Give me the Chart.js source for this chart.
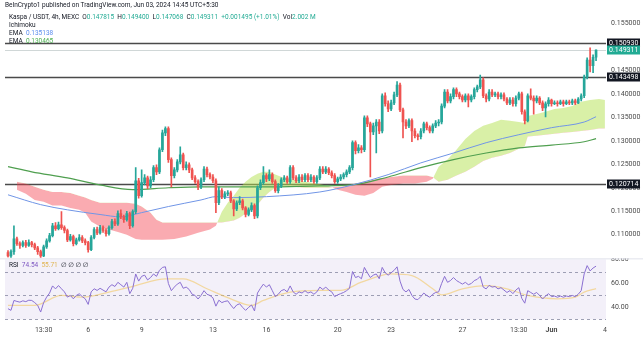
<!DOCTYPE html>
<html>
<head>
<meta charset="utf-8">
<script src="https://cdn.jsdelivr.net/npm/chart.js@4.4.1/dist/chart.umd.min.js"></script>
<style>
  body { margin: 0; background: #fff; width: 643px; height: 339px; overflow: hidden; position: relative; font-family: Roboto, "DejaVu Sans", sans-serif; }
  canvas { position: absolute; left: 0; }
  #main { top: 0; }
  #rsi { top: 258px; }
  .txt { position: absolute; font-size: 6.5px; line-height: 8px; color: #131722; white-space: nowrap; z-index: 5; }
  .g { color: #22ab94; }
</style>
</head>
<body>
<canvas id="main" width="643" height="258"></canvas>
<canvas id="rsi" width="643" height="81"></canvas>

<div class="txt" style="left:5px;top:1px;">BeInCrypto1 published on TradingView.com, Jun 03, 2024 14:45 UTC+5:30</div>
<div class="txt" style="left:9px;top:13px;">Kaspa / USDT, 4h, MEXC&nbsp; O<span class="g">0.147815</span>&nbsp; H<span class="g">0.149400</span>&nbsp; L<span class="g">0.147068</span>&nbsp; C<span class="g">0.149311</span>&nbsp; <span class="g">+0.001495 (+1.01%)</span>&nbsp; Vol<span class="g">2.002 M</span></div>
<div class="txt" style="left:9px;top:21px;">Ichimoku</div>
<div class="txt" style="left:9px;top:29px;">EMA&nbsp; <span style="color:#5b8def">0.135138</span></div>
<div class="txt" style="left:9px;top:37px;">EMA&nbsp; <span style="color:#4caf50">0.130465</span></div>
<div class="txt" style="left:9px;top:261px;">RSI&nbsp; <span style="color:#7e57c2">74.54</span>&nbsp; <span style="color:#e0b450">55.71</span>&nbsp; ∅ ∅ ∅ ∅</div>

<script>
// 4h candles, index 0 = May 1 13:30 ... 198 = Jun 3 13:30
const opens = [
  0.1062,0.1055,0.1064,0.1091,0.1081,0.1077,0.1083,0.1077,0.1083,0.1079,
  0.1072,0.1064,0.1055,0.1074,0.1087,0.1098,0.1119,0.1113,0.1121,0.1115,
  0.1109,0.1089,0.1096,0.1081,0.1089,0.1094,0.1087,0.1083,0.1068,0.1094,
  0.1111,0.1104,0.1115,0.1109,0.1102,0.1115,0.1128,0.1123,0.1145,0.1138,
  0.1132,0.1145,0.1119,0.1149,0.1215,0.1183,0.1211,0.1221,0.1204,0.1217,
  0.1243,0.1234,0.1281,0.1317,0.1326,0.1260,0.1226,0.1238,0.1255,0.1270,
  0.1243,0.1249,0.1238,0.1221,0.1213,0.1202,0.1217,0.1240,0.1228,0.1223,
  0.1215,0.1168,0.1194,0.1181,0.1187,0.1189,0.1172,0.1155,0.1168,0.1172,
  0.1157,0.1143,0.1153,0.1162,0.1140,0.1200,0.1211,0.1226,0.1219,0.1228,
  0.1213,0.1194,0.1204,0.1217,0.1221,0.1213,0.1243,0.1221,0.1215,0.1223,
  0.1217,0.1226,0.1217,0.1223,0.1213,0.1221,0.1240,0.1234,0.1240,0.1232,
  0.1226,0.1213,0.1219,0.1223,0.1228,0.1234,0.1243,0.1296,0.1279,0.1285,
  0.1281,0.1349,0.1336,0.1319,0.1332,0.1340,0.1321,0.1396,0.1379,0.1368,
  0.1381,0.1398,0.1419,0.1366,0.1340,0.1332,0.1343,0.1321,0.1311,0.1309,
  0.1321,0.1336,0.1328,0.1321,0.1332,0.1338,0.1340,0.1374,0.1404,0.1385,
  0.1394,0.1409,0.1400,0.1394,0.1387,0.1396,0.1387,0.1394,0.1409,0.1415,
  0.1430,0.1396,0.1389,0.1404,0.1398,0.1400,0.1394,0.1398,0.1389,0.1381,
  0.1387,0.1379,0.1391,0.1400,0.1362,0.1343,0.1396,0.1391,0.1385,0.1391,
  0.1381,0.1370,0.1379,0.1387,0.1379,0.1381,0.1379,0.1383,0.1379,0.1383,
  0.1381,0.1385,0.1381,0.1389,0.1396,0.1436,0.1472,0.1460,0.147815
];
const highs = [
  0.1066,0.1068,0.1119,0.1095,0.1085,0.1087,0.1088,0.1089,0.1086,0.1082,
  0.1075,0.1067,0.1078,0.1091,0.1103,0.1124,0.1126,0.1127,0.1149,0.1119,
  0.1112,0.1101,0.1099,0.1093,0.1100,0.1098,0.1091,0.1086,0.1098,0.1115,
  0.1116,0.1120,0.1119,0.1113,0.1119,0.1133,0.1134,0.1151,0.1153,0.1142,
  0.1150,0.1148,0.1153,0.1243,0.1220,0.1238,0.1228,0.1225,0.1224,0.1247,
  0.1249,0.1285,0.1323,0.1330,0.1330,0.1264,0.1243,0.1260,0.1287,0.1274,
  0.1255,0.1253,0.1242,0.1226,0.1217,0.1221,0.1245,0.1244,0.1232,0.1228,
  0.1219,0.1202,0.1198,0.1192,0.1194,0.1193,0.1175,0.1172,0.1181,0.1176,
  0.1160,0.1157,0.1168,0.1166,0.1204,0.1217,0.1245,0.1230,0.1238,0.1232,
  0.1217,0.1209,0.1221,0.1226,0.1225,0.1247,0.1247,0.1226,0.1228,0.1228,
  0.1230,0.1230,0.1228,0.1226,0.1226,0.1245,0.1245,0.1245,0.1243,0.1236,
  0.1230,0.1223,0.1228,0.1232,0.1238,0.1247,0.1300,0.1300,0.1292,0.1290,
  0.1353,0.1353,0.1340,0.1338,0.1345,0.1345,0.1400,0.1402,0.1385,0.1387,
  0.1404,0.1426,0.1423,0.1370,0.1345,0.1347,0.1347,0.1326,0.1315,0.1326,
  0.1340,0.1340,0.1332,0.1336,0.1343,0.1345,0.1379,0.1409,0.1409,0.1400,
  0.1413,0.1413,0.1404,0.1398,0.1400,0.1400,0.1398,0.1413,0.1419,0.1440,
  0.1434,0.1400,0.1409,0.1409,0.1404,0.1404,0.1402,0.1402,0.1392,0.1392,
  0.1392,0.1396,0.1404,0.1404,0.1366,0.1400,0.1411,0.1396,0.1396,0.1394,
  0.1385,0.1383,0.1392,0.1389,0.1385,0.1385,0.1387,0.1387,0.1387,0.1387,
  0.1389,0.1389,0.1392,0.1400,0.1440,0.1477,0.1498,0.1483,0.149400
];
const lows = [
  0.1052,0.1051,0.1058,0.1077,0.1071,0.1074,0.1073,0.1075,0.1074,0.1068,
  0.1058,0.1051,0.1053,0.1071,0.1084,0.1095,0.1109,0.1110,0.1111,0.1104,
  0.1085,0.1086,0.1076,0.1078,0.1086,0.1083,0.1078,0.1063,0.1066,0.1091,
  0.1100,0.1101,0.1105,0.1097,0.1099,0.1112,0.1119,0.1120,0.1134,0.1126,
  0.1129,0.1113,0.1116,0.1145,0.1178,0.1180,0.1206,0.1198,0.1200,0.1213,
  0.1228,0.1230,0.1277,0.1311,0.1254,0.1202,0.1221,0.1234,0.1251,0.1238,
  0.1238,0.1232,0.1217,0.1209,0.1196,0.1198,0.1213,0.1223,0.1219,0.1211,
  0.1147,0.1164,0.1177,0.1177,0.1183,0.1168,0.1140,0.1151,0.1164,0.1153,
  0.1138,0.1140,0.1149,0.1134,0.1136,0.1196,0.1207,0.1213,0.1215,0.1209,
  0.1190,0.1189,0.1200,0.1213,0.1209,0.1209,0.1217,0.1211,0.1211,0.1213,
  0.1213,0.1213,0.1213,0.1209,0.1209,0.1217,0.1230,0.1230,0.1228,0.1221,
  0.1209,0.1209,0.1215,0.1219,0.1223,0.1230,0.1238,0.1272,0.1274,0.1274,
  0.1277,0.1330,0.1223,0.1313,0.1274,0.1315,0.1317,0.1374,0.1362,0.1364,
  0.1377,0.1394,0.1362,0.1306,0.1326,0.1328,0.1298,0.1306,0.1302,0.1304,
  0.1317,0.1323,0.1317,0.1317,0.1328,0.1332,0.1336,0.1370,0.1381,0.1381,
  0.1389,0.1394,0.1389,0.1383,0.1383,0.1372,0.1383,0.1389,0.1404,0.1411,
  0.1392,0.1383,0.1385,0.1394,0.1394,0.1389,0.1389,0.1385,0.1377,0.1377,
  0.1374,0.1374,0.1387,0.1357,0.1336,0.1340,0.1387,0.1357,0.1381,0.1377,
  0.1364,0.1351,0.1374,0.1374,0.1377,0.1374,0.1377,0.1374,0.1377,0.1377,
  0.1377,0.1377,0.1379,0.1385,0.1392,0.1432,0.1447,0.1445,0.147068
];
const closes = [
  0.1055,0.1064,0.1091,0.1081,0.1077,0.1083,0.1077,0.1083,0.1079,0.1072,
  0.1064,0.1055,0.1074,0.1087,0.1098,0.1119,0.1113,0.1121,0.1115,0.1109,
  0.1089,0.1096,0.1081,0.1089,0.1094,0.1087,0.1083,0.1068,0.1094,0.1111,
  0.1104,0.1115,0.1109,0.1102,0.1115,0.1128,0.1123,0.1145,0.1138,0.1132,
  0.1145,0.1119,0.1149,0.1215,0.1183,0.1211,0.1221,0.1204,0.1217,0.1243,
  0.1234,0.1281,0.1317,0.1326,0.1260,0.1226,0.1238,0.1255,0.1270,0.1243,
  0.1249,0.1238,0.1221,0.1213,0.1202,0.1217,0.1240,0.1228,0.1223,0.1215,
  0.1168,0.1194,0.1181,0.1187,0.1189,0.1172,0.1155,0.1168,0.1172,0.1157,
  0.1143,0.1153,0.1162,0.1140,0.1200,0.1211,0.1226,0.1219,0.1228,0.1213,
  0.1194,0.1204,0.1217,0.1221,0.1213,0.1243,0.1221,0.1215,0.1223,0.1217,
  0.1226,0.1217,0.1223,0.1213,0.1221,0.1240,0.1234,0.1240,0.1232,0.1226,
  0.1213,0.1219,0.1223,0.1228,0.1234,0.1243,0.1296,0.1279,0.1285,0.1281,
  0.1349,0.1336,0.1319,0.1332,0.1340,0.1321,0.1396,0.1379,0.1368,0.1381,
  0.1398,0.1419,0.1366,0.1340,0.1332,0.1343,0.1321,0.1311,0.1309,0.1321,
  0.1336,0.1328,0.1321,0.1332,0.1338,0.1340,0.1374,0.1404,0.1385,0.1394,
  0.1409,0.1400,0.1394,0.1387,0.1396,0.1387,0.1394,0.1409,0.1415,0.1430,
  0.1396,0.1389,0.1404,0.1398,0.1400,0.1394,0.1398,0.1389,0.1381,0.1387,
  0.1379,0.1391,0.1400,0.1362,0.1343,0.1396,0.1391,0.1385,0.1391,0.1381,
  0.1370,0.1379,0.1387,0.1379,0.1381,0.1379,0.1383,0.1379,0.1383,0.1381,
  0.1385,0.1381,0.1389,0.1396,0.1436,0.1472,0.1460,0.1478,0.149311
];

// Ichimoku cloud (leading spans), sampled at candle indexes
const cloudIdx = [3,6,9,12,15,18,21,24,26,28,31,34,37,40,43,45,48,50,52,56,60,64,68,70,
  72,74,76,78,80,82,84,86,88,90,93,96,100,104,108,
  111,114,117,120,123,126,129,133,137,141,143,
  145,148,151,154,157,160,163,166,169,172,174,175,178,181,184,187,190,193,196,199,201];
const spanA = [0.1196,0.1187,0.1174,0.1170,0.1162,0.1162,0.1157,0.1153,0.1147,0.1128,0.1117,0.1111,0.1106,0.1100,0.1091,0.1089,0.1089,0.1089,0.1089,0.1091,0.1096,0.1104,0.1111,0.1119,
  0.1149,0.1168,0.1183,0.1200,0.1213,0.1223,0.1230,0.1234,0.1234,0.1228,0.1221,0.1217,0.1213,0.1209,0.1204,
  0.1196,0.1191,0.1185,0.1183,0.1189,0.1202,0.1206,0.1209,0.1209,0.1213,0.1219,
  0.1245,0.1260,0.1281,0.1304,0.1321,0.1332,0.1338,0.1345,0.1343,0.1340,0.1338,0.1353,0.1357,0.1362,0.1368,0.1370,0.1374,0.1383,0.1387,0.1389,0.1387];
const spanB = [0.1213,0.1209,0.1202,0.1196,0.1191,0.1191,0.1189,0.1183,0.1179,0.1174,0.1168,0.1168,0.1168,0.1168,0.1166,0.1160,0.1147,0.1132,0.1126,0.1126,0.1126,0.1126,0.1126,0.1126,
  0.1126,0.1128,0.1130,0.1136,0.1145,0.1153,0.1164,0.1179,0.1191,0.1200,0.1202,0.1202,0.1200,0.1200,0.1200,
  0.1202,0.1204,0.1209,0.1213,0.1217,0.1221,0.1223,0.1226,0.1226,0.1226,0.1223,
  0.1213,0.1217,0.1226,0.1234,0.1245,0.1257,0.1264,0.1268,0.1274,0.1283,0.1289,0.1309,0.1311,0.1313,0.1315,0.1317,0.1319,0.1321,0.1323,0.1326,0.1326];

// EMAs
const emaFastIdx = [0,11,20,31,38,45,54,65,70,76,87,105,116,128,139,150,161,172,183,194,198];
const emaFast = [0.1185,0.1164,0.1153,0.1143,0.1138,0.1147,0.1160,0.1174,0.1181,0.1179,0.1181,0.1191,0.1206,0.1228,0.1253,0.1274,0.1296,0.1313,0.1328,0.1340,0.135138];
const emaSlowIdx = [0,8,20,31,42,54,65,87,105,116,128,139,150,161,172,183,194,198];
const emaSlow = [0.1245,0.1234,0.1221,0.1206,0.1196,0.1200,0.1202,0.1202,0.1204,0.1206,0.1223,0.1243,0.1260,0.1274,0.1285,0.1291,0.1298,0.130465];

// RSI and its MA
const rsi = [
  38.9,37.5,45.8,45.0,44.4,45.5,44.8,46.0,45.8,44.0,
  41.7,36.1,44.0,48.6,52.0,58.0,55.5,58.3,55.6,53.0,
  48.6,50.0,47.2,50.0,51.4,49.0,47.2,42.5,53.0,55.6,
  54.2,56.0,54.5,53.0,57.0,59.0,57.5,61.0,59.0,57.0,
  61.0,51.5,56.0,68.0,62.0,66.0,67.0,63.0,65.0,68.0,
  66.0,71.0,73.5,74.0,60.0,54.0,57.0,59.5,61.0,56.0,
  57.0,55.0,51.0,50.0,47.0,50.0,54.0,51.0,50.0,48.0,
  41.0,46.0,44.0,45.0,45.5,42.0,39.0,42.0,43.0,40.0,
  37.5,40.0,42.0,37.0,52.0,56.0,59.5,57.0,59.0,54.0,
  49.0,51.0,54.0,55.0,53.0,58.0,53.0,51.0,53.0,52.0,
  54.0,52.0,53.0,51.0,53.0,57.0,55.0,57.0,54.5,53.0,
  49.0,50.5,51.5,52.5,54.0,56.0,70.0,65.0,66.0,64.0,
  73.5,69.0,65.0,67.0,68.0,64.0,73.5,69.0,67.0,69.0,
  71.0,74.0,62.0,55.0,53.0,55.0,50.0,47.0,46.5,49.0,
  52.0,50.0,48.5,51.0,52.5,53.0,60.0,66.0,61.0,62.5,
  65.0,62.5,61.0,59.5,61.0,59.0,60.0,62.5,63.5,66.0,
  57.0,55.5,58.5,57.0,57.5,55.5,56.5,54.5,52.5,54.0,
  51.5,54.5,56.5,47.5,43.5,54.0,52.5,51.0,52.5,50.0,
  47.0,49.5,51.5,49.0,49.5,48.5,49.5,48.5,49.5,49.0,
  50.0,49.0,51.0,54.0,68.0,75.0,70.5,73.0,74.54
];
const rsiMaIdx = [0,9,18,25,34,43,53,59,67,75,82,86,95,105,112,119,129,136,143,146,153,161,168,175,185,191,194,198];
const rsiMa = [41.7,41.7,50.0,48.6,52.8,58.3,63.9,63.9,55.6,47.2,41.7,45.8,52.8,54.2,54.2,61.1,68.0,66.7,55.6,50.5,55.6,58.3,55.6,50.0,47.2,48.6,52.8,55.71];
const rsiLevels = [70, 50, 30];

// axes
const priceTicks = [0.110, 0.115, 0.120, 0.125, 0.130, 0.135, 0.140, 0.145, 0.150, 0.155];
const rsiTicks = [40, 60, 80];
const timeTickIdx = [12, 27, 45, 69, 87, 111, 129, 153, 172, 183, 201];
const timeTickLbl = ['13:30', '6', '9', '13', '16', '20', '23', '27', '13:30', 'Jun', '4'];

// horizontal levels drawn on the chart
const levels = [0.150930, 0.143498, 0.120714];

const UP = '#26a69a';
const DOWN = '#ef5350';
const X_MIN = -1.01;
const X_MAX = 201.35;

Chart.defaults.font.family = 'Roboto';

const candleColor = opens.map((o, i) => closes[i] >= o ? UP : DOWN);

// right price scale: label offset comes from an invisible tick mark, so the
// scale adds no extra top/bottom padding to the plot area
const rightAxis = {
    position: 'right',
    afterFit: scale => { scale.width = 37; },
    grid: { display: true, drawOnChartArea: false, drawTicks: true, tickLength: 5, color: 'rgba(0,0,0,0)' },
    border: { display: false },
    ticks: { padding: 0, color: '#4a4a4a', font: { size: 7, lineHeight: 0.1 } }
};

const priceLines = {
    id: 'priceLines',
    beforeDatasetsDraw(chart) {
        const { ctx, chartArea: a, scales: { y } } = chart;
        ctx.save();
        const yc = Math.round(y.getPixelForValue(closes[closes.length - 1])) + 0.5;
        ctx.strokeStyle = 'rgba(120,140,140,0.35)';
        ctx.lineWidth = 1;
        ctx.beginPath();
        ctx.moveTo(a.left, yc);
        ctx.lineTo(a.right, yc);
        ctx.stroke();
        ctx.strokeStyle = '#4a4a4a';
        ctx.lineWidth = 1.3;
        levels.forEach(v => {
            const py = Math.round(y.getPixelForValue(v)) + 0.5;
            ctx.beginPath();
            ctx.moveTo(a.left, py);
            ctx.lineTo(a.right, py);
            ctx.stroke();
        });
        ctx.restore();
    },
    afterDraw(chart) {
        const { ctx, scales: { y } } = chart;
        const box = (v, color) => {
            const py = Math.round(y.getPixelForValue(v));
            ctx.fillStyle = color;
            ctx.fillRect(y.left + 1, py - 4.5, 33, 9);
            ctx.fillStyle = '#fff';
            ctx.font = '7px Roboto';
            ctx.textBaseline = 'middle';
            ctx.fillText(v.toFixed(6), y.left + 3, py + 0.5);
        };
        ctx.save();
        levels.forEach(v => box(v, '#131722'));
        box(closes[closes.length - 1], '#22ab94');
        ctx.restore();
    }
};

new Chart(document.getElementById('main'), {
    type: 'bar',
    data: {
        datasets: [
            {
                type: 'line',
                data: cloudIdx.map((x, i) => ({ x, y: spanA[i] })),
                borderWidth: 0,
                pointRadius: 0,
                fill: { target: '+1', above: 'rgba(180,225,80,0.5)', below: 'rgba(242,54,69,0.42)' },
                order: 10
            },
            {
                type: 'line',
                data: cloudIdx.map((x, i) => ({ x, y: spanB[i] })),
                borderWidth: 0,
                pointRadius: 0,
                fill: false,
                order: 11
            },
            {
                type: 'line',
                data: emaFastIdx.map((x, i) => ({ x, y: emaFast[i] })),
                borderColor: '#7095e6',
                borderWidth: 1,
                pointRadius: 0,
                cubicInterpolationMode: 'monotone',
                order: 5
            },
            {
                type: 'line',
                data: emaSlowIdx.map((x, i) => ({ x, y: emaSlow[i] })),
                borderColor: '#4f9f4f',
                borderWidth: 1.2,
                pointRadius: 0,
                cubicInterpolationMode: 'monotone',
                order: 5
            },
            {
                data: lows.map((l, i) => ({ x: i, y: [l, highs[i]] })),
                backgroundColor: candleColor,
                barThickness: 1,
                grouped: false,
                order: 3
            },
            {
                data: opens.map((o, i) => ({ x: i, y: [o, closes[i]] })),
                backgroundColor: candleColor,
                barThickness: 2,
                minBarLength: 1,
                grouped: false,
                order: 2
            }
        ]
    },
    options: {
        responsive: false,
        animation: false,
        layout: { padding: { left: 5, top: 13, right: 0, bottom: 0 } },
        plugins: { legend: { display: false }, tooltip: { enabled: false } },
        scales: {
            x: { type: 'linear', min: X_MIN, max: X_MAX, offset: false, display: false },
            y: {
                ...rightAxis,
                min: 0.10511,
                max: 0.15723,
                afterBuildTicks: axis => { axis.ticks = priceTicks.map(v => ({ value: v })); },
                ticks: { ...rightAxis.ticks, callback: v => v.toFixed(6) }
            }
        }
    },
    plugins: [priceLines]
});

const rsiBands = {
    id: 'rsiBands',
    beforeDatasetsDraw(chart) {
        const { ctx, chartArea: a, scales: { y } } = chart;
        ctx.save();
        const yLow = y.getPixelForValue(rsiLevels[2]);
        ctx.fillStyle = 'rgba(126,87,194,0.09)';
        ctx.fillRect(a.left, a.top + 1, a.right - a.left, yLow - a.top - 1);
        ctx.strokeStyle = '#e0e3eb';
        ctx.lineWidth = 1;
        ctx.beginPath();
        ctx.moveTo(0, a.top + 0.5);
        ctx.lineTo(chart.width, a.top + 0.5);
        ctx.stroke();
        ctx.strokeStyle = 'rgba(120,123,150,0.7)';
        ctx.setLineDash([3, 3]);
        rsiLevels.forEach(v => {
            const py = Math.round(y.getPixelForValue(v)) + 0.5;
            ctx.beginPath();
            ctx.moveTo(a.left, py);
            ctx.lineTo(a.right, py);
            ctx.stroke();
        });
        ctx.restore();
    }
};

new Chart(document.getElementById('rsi'), {
    type: 'line',
    data: {
        datasets: [
            {
                data: rsiMaIdx.map((x, i) => ({ x, y: rsiMa[i] })),
                borderColor: 'rgba(242,196,90,0.55)',
                borderWidth: 1.3,
                pointRadius: 0,
                cubicInterpolationMode: 'monotone',
                order: 2
            },
            {
                data: rsi.map((v, i) => ({ x: i, y: v })),
                borderColor: '#8a6fd1',
                borderWidth: 1,
                pointRadius: 0,
                order: 1
            }
        ]
    },
    options: {
        responsive: false,
        animation: false,
        layout: { padding: { left: 5, top: 0, right: 0, bottom: 0 } },
        plugins: { legend: { display: false }, tooltip: { enabled: false } },
        scales: {
            x: {
                type: 'linear',
                min: X_MIN,
                max: X_MAX,
                offset: false,
                afterBuildTicks: axis => { axis.ticks = timeTickIdx.map(v => ({ value: v })); },
                afterFit: scale => { scale.height = 17; },
                grid: { display: false, drawTicks: false },
                border: { display: false },
                ticks: {
                    padding: 4,
                    maxRotation: 0,
                    autoSkip: false,
                    color: '#4a4a4a',
                    font: ctx => ({ size: 7, weight: ctx.tick && ctx.tick.label === 'Jun' ? 'bold' : 'normal' }),
                    callback: v => timeTickLbl[timeTickIdx.indexOf(v)]
                }
            },
            y: {
                ...rightAxis,
                min: 27.75,
                max: 81.08,
                afterBuildTicks: axis => { axis.ticks = rsiTicks.map(v => ({ value: v })); },
                ticks: { ...rightAxis.ticks, callback: v => v.toFixed(2) }
            }
        }
    },
    plugins: [rsiBands]
});
</script>
</body>
</html>
